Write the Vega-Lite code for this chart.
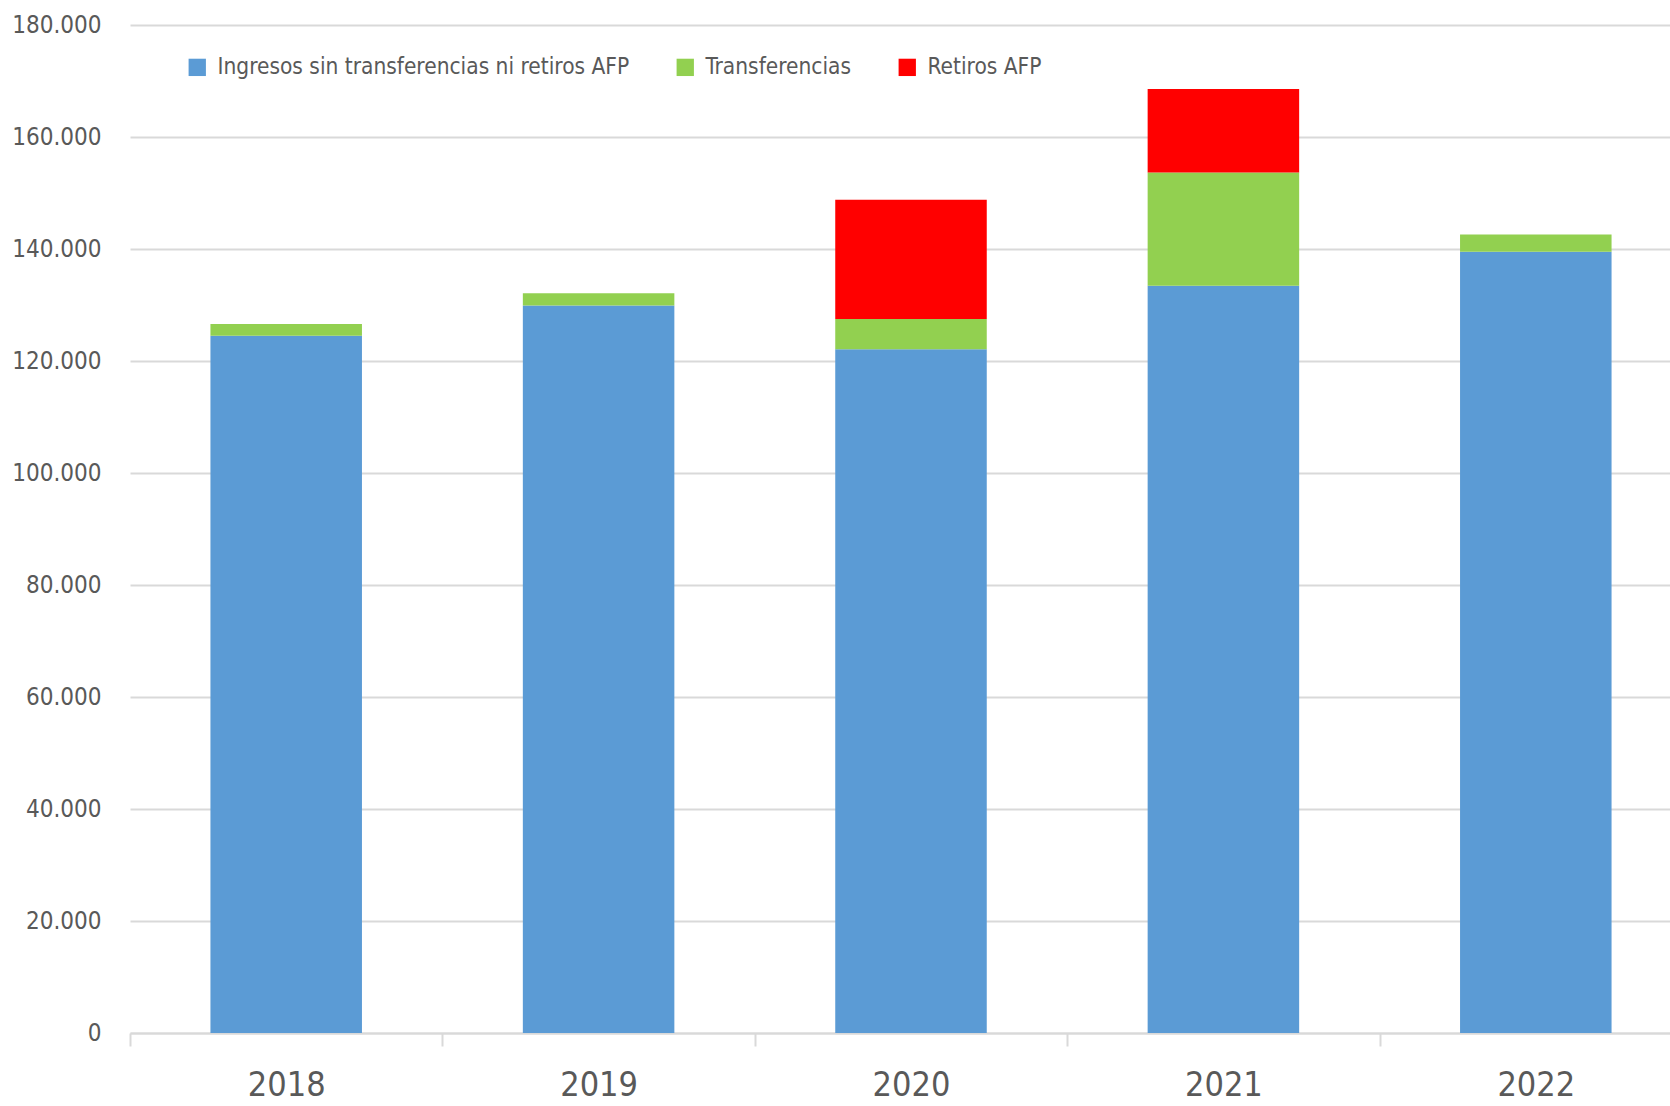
{
  "$schema": "https://vega.github.io/schema/vega-lite/v6.json",
  "width": 1562,
  "height": 1008,
  "autosize": {"type": "none"},
  "padding": {"left": 130, "top": 25, "right": 0, "bottom": 73},
  "background": "white",
  "config": {
    "view": {"stroke": null},
    "font": "DejaVu Sans Condensed"
  },
  "data": {
    "values": [
      {"anio": "2018", "serie": "Ingresos sin transferencias ni retiros AFP", "orden": 1, "valor": 124500},
      {"anio": "2018", "serie": "Transferencias", "orden": 2, "valor": 2100},
      {"anio": "2019", "serie": "Ingresos sin transferencias ni retiros AFP", "orden": 1, "valor": 129900},
      {"anio": "2019", "serie": "Transferencias", "orden": 2, "valor": 2200},
      {"anio": "2020", "serie": "Ingresos sin transferencias ni retiros AFP", "orden": 1, "valor": 122100},
      {"anio": "2020", "serie": "Transferencias", "orden": 2, "valor": 5400},
      {"anio": "2020", "serie": "Retiros AFP", "orden": 3, "valor": 21300},
      {"anio": "2021", "serie": "Ingresos sin transferencias ni retiros AFP", "orden": 1, "valor": 133450},
      {"anio": "2021", "serie": "Transferencias", "orden": 2, "valor": 20230},
      {"anio": "2021", "serie": "Retiros AFP", "orden": 3, "valor": 14890},
      {"anio": "2022", "serie": "Ingresos sin transferencias ni retiros AFP", "orden": 1, "valor": 139500},
      {"anio": "2022", "serie": "Transferencias", "orden": 2, "valor": 3100}
    ]
  },
  "mark": {"type": "bar", "width": {"band": 0.485}},
  "encoding": {
    "x": {
      "field": "anio",
      "type": "nominal",
      "title": null,
      "scale": {"paddingInner": 0, "paddingOuter": 0},
      "axis": {
        "bandPosition": 0,
        "labelAngle": 0,
        "labelFontSize": 34,
        "labelFontWeight": 300,
        "labelColor": "#595959",
        "labelPadding": 22,
        "labelBaseline": "top",
        "ticks": true,
        "tickBand": "extent",
        "tickSize": 13,
        "tickColor": "#d9d9d9",
        "tickWidth": 2,
        "domainColor": "#d9d9d9",
        "domainWidth": 2,
        "grid": false
      }
    },
    "y": {
      "field": "valor",
      "type": "quantitative",
      "aggregate": "sum",
      "stack": "zero",
      "title": null,
      "scale": {"domain": [0, 180000], "nice": false},
      "axis": {
        "values": [0, 20000, 40000, 60000, 80000, 100000, 120000, 140000, 160000, 180000],
        "labelExpr": "replace(format(datum.value, ',d'), ',', '.')",
        "labelFontSize": 24,
        "labelFontWeight": 300,
        "labelColor": "#595959",
        "labelPadding": 29,
        "ticks": false,
        "domain": false,
        "grid": true,
        "gridColor": "#d9d9d9",
        "gridWidth": 2
      }
    },
    "color": {
      "field": "serie",
      "type": "nominal",
      "title": null,
      "scale": {
        "domain": ["Ingresos sin transferencias ni retiros AFP", "Transferencias", "Retiros AFP"],
        "range": ["#5B9BD5", "#92D050", "#FF0000"]
      },
      "legend": {
        "orient": "none",
        "legendX": 56,
        "legendY": 31,
        "direction": "horizontal",
        "symbolType": "square",
        "symbolSize": 300,
        "symbolStrokeWidth": 0,
        "labelFontSize": 22.5,
        "labelFontWeight": 300,
        "labelColor": "#595959",
        "labelOffset": 9,
        "columnPadding": 44,
        "labelLimit": 600
      }
    },
    "order": {"field": "orden", "type": "quantitative"}
  }
}
